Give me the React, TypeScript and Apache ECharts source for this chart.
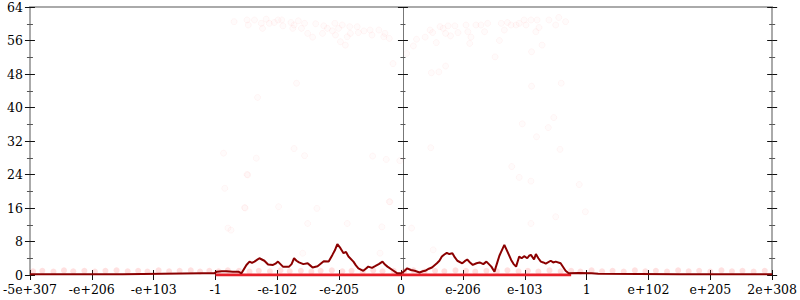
import React, { useEffect, useRef } from "react";
import * as echarts from "echarts";

const tickLabels = ["-5e+307", "-e+206", "-e+103", "-1", "-e-102", "-e-205", "0", "e-206", "e-103", "1", "e+102", "e+205", "2e+308"];

const densityX = [-6, -4.5, -3.22, -3.02, -2.98, -2.9, -2.82, -2.72, -2.63, -2.58, -2.5, -2.45, -2.41, -2.37, -2.33, -2.29, -2.25, -2.21, -2.15, -2.07, -2.03, -1.99, -1.95, -1.91, -1.81, -1.77, -1.73, -1.69, -1.65, -1.58, -1.51, -1.47, -1.43, -1.35, -1.3, -1.25, -1.17, -1.11, -1.07, -1.03, -0.98, -0.93, -0.89, -0.85, -0.77, -0.73, -0.69, -0.61, -0.57, -0.53, -0.47, -0.42, -0.36, -0.3, -0.26, -0.22, -0.14, -0.06, 0, 0.05, 0.1, 0.16, 0.22, 0.3, 0.35, 0.39, 0.45, 0.5, 0.58, 0.62, 0.66, 0.7, 0.74, 0.78, 0.83, 0.87, 0.91, 0.99, 1.03, 1.07, 1.12, 1.16, 1.22, 1.27, 1.33, 1.38, 1.46, 1.51, 1.56, 1.59, 1.62, 1.67, 1.72, 1.78, 1.82, 1.86, 1.91, 1.95, 1.99, 2.04, 2.07, 2.1, 2.15, 2.18, 2.22, 2.26, 2.3, 2.34, 2.42, 2.46, 2.5, 2.58, 2.66, 2.71, 2.87, 3.08, 3.19, 4.5, 6];
const densityY = [0.2, 0.2, 0.4, 0.4, 0.8, 0.9, 0.9, 0.8, 0.8, 0.4, 2.4, 3.2, 2.9, 3.2, 3.6, 4.0, 3.7, 3.4, 2.5, 2.4, 2.7, 3.2, 2.6, 2.0, 2.0, 2.6, 4.0, 3.4, 3.0, 2.6, 2.8, 2.3, 1.8, 2.1, 2.7, 3.3, 3.2, 4.8, 5.9, 7.4, 6.4, 5.2, 5.5, 4.4, 3.2, 2.3, 1.6, 1.0, 1.5, 2.0, 1.7, 2.1, 2.6, 3.2, 2.5, 2.0, 1.2, 0.4, 0.4, 0.9, 1.6, 1.2, 1.0, 0.6, 0.9, 1.0, 1.5, 1.8, 2.8, 3.4, 4.4, 4.9, 5.3, 5.0, 5.2, 4.2, 3.4, 2.8, 3.3, 3.7, 2.9, 2.4, 2.8, 3.0, 2.6, 3.2, 2.0, 0.8, 3.2, 4.6, 5.6, 7.2, 5.6, 3.6, 2.6, 2.0, 4.4, 4.0, 4.5, 4.0, 4.6, 4.8, 3.7, 5.0, 4.0, 3.2, 3.0, 2.7, 3.4, 3.0, 3.2, 2.8, 1.0, 0.4, 0.5, 0.4, 0.3, 0.2, 0.2];

const zeroBandX = [-3.0, 2.75];
const zeroBandY = [0, 0];

const outlierX = [-2.7, -2.49, -2.47, -2.37, -2.26, -2.24, -2.18, -2.13, -2.05, -1.99, -1.91, -1.93, -1.78, -1.75, -1.73, -1.66, -1.61, -1.56, -1.51, -1.43, -1.38, -1.27, -1.25, -1.19, -1.11, -1.07, -1.06, -1.01, -0.98, -0.95, -0.9, -0.87, -0.83, -0.82, -0.71, -0.69, -0.6, -0.5, -0.47, -0.36, -0.28, -0.26, -0.19, -0.13, 0.09, 0.2,
  0.25, 0.39, 0.47, 0.51, 0.57, 0.63, 0.68, 0.72, 0.76, 0.8, 0.87, 0.92, 1.05, 1.08, 1.11, 1.13, 1.21, 1.29, 1.35, 1.4, 1.52, 1.59, 1.62, 1.67, 1.72, 1.78, 1.86, 1.91, 1.99, 2.02, 2.1, 2.11, 2.18, 2.2, 2.23, 2.28, 2.39, 2.5, 2.55, 2.66, 0.49, 0.61, 0.72,
  -1.69, -2.32, 2.11, 2.59, 2.47, 1.96, 2.38, 2.19, 2.57, 1.79, 1.91, 2.1, 2.88, 0.48, -0.46, -0.24, -0.02, -1.73, -1.56, -2.34, -2.87, -2.49, -2.85, -2.53, -1.98, -1.36, -0.19,
  -2.52, -2.8, -2.75, -2.48, -1.51, -1.59, -0.87, -0.31, -0.34, 0.17, -0.18, 0.52, 2.1, 2.5, 2.98];
const outlierY = [60.5, 60.9, 59.7, 60.9, 60.1, 58.9, 61.1, 60.1, 60.3, 60.9, 59.5, 60.9, 60.3, 58.9, 59.7, 60.7, 58.9, 60.1, 57.7, 56.8, 60.0, 57.7, 59.5, 58.9, 58.3, 60.1, 57.3, 58.9, 55.7, 59.7, 54.9, 56.9, 59.3, 57.7, 59.3, 57.9, 58.3, 58.5, 57.3, 58.5, 56.9, 57.7, 56.5, 50.5, 52.9, 54.7,
  56.3, 56.8, 58.5, 57.9, 55.5, 59.3, 58.9, 57.7, 59.5, 57.1, 59.5, 57.9, 59.7, 58.1, 55.3, 56.8, 59.7, 59.7, 58.1, 60.1, 52.1, 56.0, 60.1, 58.5, 60.3, 59.7, 59.7, 60.1, 60.9, 59.7, 60.9, 53.3, 58.1, 60.9, 59.1, 54.9, 60.9, 59.7, 61.5, 60.5, 48.3, 48.5, 49.9,
  45.8, 42.4, 45.1, 45.8, 37.6, 36.1, 35.2, 33.0, 30.0, 25.9, 23.3, 22.4, 21.6, 30.4, 28.4, 27.6, 27.3, 30.2, 28.5, 27.9, 29.1, 24.0, 20.7, 16.1, 16.3, 15.9, 17.5,
  16.0, 11.2, 10.7, 23.9, 12.3, 5.2, 12.3, 11.5, 5.2, 11.2, 17.5, 6.0, 12.3, 13.9, 15.1];

const bandX = [-5.95, -5.8, -5.62, -5.45, -5.3, -5.12, -4.95, -4.78, -4.6, -4.42, -4.25, -4.1, -3.92, -3.75, -3.58, -3.4, -3.25, -3.1, -2.95, -2.8, -2.62, -2.45, -2.3, -2.12, -1.95, -1.8, -1.62, -1.45, -1.3, -1.12, -0.95, -0.8, -0.62, -0.45, -0.3, -0.12, 0.05, 0.2, 0.38, 0.55, 0.7, 0.88, 1.05, 1.2, 1.38, 1.55, 1.72, 1.9, 2.05, 2.22, 2.4, 2.58, 2.75, 2.9, 3.08, 3.25, 3.42, 3.6, 3.78, 3.95, 4.12, 4.3, 4.48, 4.65, 4.82, 5.0, 5.18, 5.35, 5.52, 5.7, 5.88];
const bandY = [0.9, 1.0, 0.8, 1.1, 0.9, 1.0, 0.8, 1.0, 1.1, 0.9, 1.0, 0.8, 1.1, 0.9, 1.0, 1.1, 0.8, 1.0, 0.9, 1.1, 1.0, 0.8, 1.0, 0.9, 1.1, 0.9, 1.0, 0.8, 1.0, 1.1, 0.9, 1.0, 0.8, 1.1, 0.9, 1.0, 0.9, 1.1, 0.8, 1.0, 0.9, 1.1, 1.0, 0.8, 1.0, 0.9, 1.1, 0.9, 1.0, 0.8, 1.1, 0.9, 1.0, 0.8, 1.1, 0.9, 1.0, 0.8, 1.1, 0.9, 1.0, 0.8, 1.1, 0.9, 1.0, 0.8, 1.1, 0.9, 1.0, 0.8, 1.0];

const FONT = "DejaVu Serif";

function zip(xs: number[], ys: number[]) {
  return xs.map((x, i) => [x, ys[i]]);
}

function yAxisDef(position: "left" | "right", inside: boolean, opts: any = {}) {
  return {
    type: "value",
    gridIndex: 0,
    position,
    min: 0,
    max: 64,
    interval: 8,
    splitLine: { show: false },
    axisLine: { show: false, onZero: false },
    axisTick: { show: true, inside, length: 5, lineStyle: { color: "#111", width: 1 } },
    minorTick: { show: true, splitNumber: 2, length: 3, lineStyle: { color: "#555", width: 1 } },
    axisLabel: { show: false },
    ...opts,
  };
}

export default function App() {
  const ref = useRef<HTMLDivElement>(null);
  useEffect(() => {
    if (!ref.current) return;
    const chart = echarts.init(ref.current, null, { renderer: "svg" });
    const xBase = {
      type: "value",
      gridIndex: 0,
      min: -6,
      max: 6,
      interval: 1,
      splitLine: { show: false },
    };
    chart.setOption({
      animation: false,
      backgroundColor: "#fff",
      textStyle: { fontFamily: FONT, fontSize: 12.5, color: "#000" },
      grid: { left: 28, right: 26, top: 7, bottom: 25, show: false },
      xAxis: [
        {
          ...xBase,
          position: "bottom",
          axisLine: { show: false, onZero: false },
          axisTick: { show: true, length: 5, lineStyle: { color: "#111" } },
          axisLabel: {
            show: true,
            margin: 8,
            fontFamily: FONT,
            fontSize: 12.5,
            color: "#000",
            formatter: (v: number) => tickLabels[Math.round(v) + 6],
          },
        },
        {
          ...xBase,
          position: "bottom",
          axisLine: { show: false, onZero: false },
          axisTick: { show: true, inside: true, length: 5, lineStyle: { color: "#111" } },
          axisLabel: { show: false },
        },
        {
          ...xBase,
          position: "top",
          axisLine: { show: true, onZero: false, lineStyle: { color: "#aaa", width: 2 } },
          axisTick: { show: false },
          axisLabel: { show: false },
        },
      ],
      yAxis: [
        yAxisDef("left", false, {
          axisLine: { show: true, onZero: false, lineStyle: { color: "#aaa", width: 2 } },
          axisLabel: { show: true, margin: 7, fontFamily: FONT, fontSize: 12.5, color: "#000" },
        }),
        yAxisDef("left", true),
        yAxisDef("right", false, {
          axisLine: { show: true, onZero: false, lineStyle: { color: "#aaa", width: 2 } },
        }),
        yAxisDef("right", true),
        yAxisDef("left", false, {
          offset: -373,
          axisLine: { show: true, onZero: false, lineStyle: { color: "#777", width: 1 } },
          minorTick: { show: true, splitNumber: 2, length: 2.5, lineStyle: { color: "#555", width: 1 } },
        }),
        yAxisDef("left", true, {
          offset: -373,
          minorTick: { show: true, splitNumber: 2, length: 2.5, lineStyle: { color: "#555", width: 1 } },
        }),
      ],
      series: [
        {
          type: "scatter",
          xAxisIndex: 0,
          yAxisIndex: 0,
          data: zip(bandX, bandY),
          symbolSize: 6,
          itemStyle: { color: "#ff4040", opacity: 0.16 },
          silent: true,
        },
        {
          type: "scatter",
          xAxisIndex: 0,
          yAxisIndex: 0,
          data: zip(outlierX, outlierY),
          symbolSize: 6,
          itemStyle: { color: "rgba(255,90,90,0.03)", borderColor: "rgba(255,60,60,0.05)", borderWidth: 1 },
          silent: true,
        },
        {
          type: "line",
          xAxisIndex: 0,
          yAxisIndex: 0,
          data: zip(zeroBandX, zeroBandY),
          showSymbol: false,
          lineStyle: { color: "#e8202a", width: 3 },
          silent: true,
        },
        {
          type: "line",
          xAxisIndex: 0,
          yAxisIndex: 0,
          data: zip(densityX, densityY),
          showSymbol: false,
          lineStyle: { color: "#8b0000", width: 2 },
          silent: true,
        },
      ],
    });
    return () => chart.dispose();
  }, []);
  return (
    <div
      ref={ref}
      style={{ position: "fixed", left: 0, top: 0, width: 800, height: 300, background: "#fff" }}
    />
  );
}
